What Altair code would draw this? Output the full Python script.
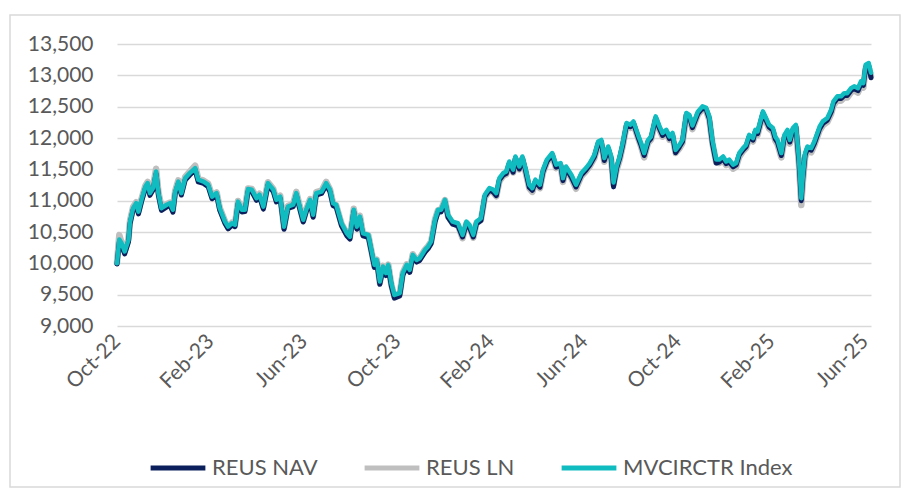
import altair as alt
import pandas as pd

dates = [
    "2022-10-26", "2022-10-29", "2022-11-01", "2022-11-05", "2022-11-10", "2022-11-12", "2022-11-16", "2022-11-20", "2022-11-23", "2022-11-27",
    "2022-12-02", "2022-12-05", "2022-12-08", "2022-12-12", "2022-12-16", "2022-12-19", "2022-12-23", "2022-12-30", "2023-01-03", "2023-01-07",
    "2023-01-10", "2023-01-14", "2023-01-18", "2023-01-23", "2023-01-29", "2023-02-05", "2023-02-09", "2023-02-16", "2023-02-22", "2023-02-27",
    "2023-03-05", "2023-03-09", "2023-03-16", "2023-03-20", "2023-03-25", "2023-03-29", "2023-04-02", "2023-04-07", "2023-04-11", "2023-04-15",
    "2023-04-20", "2023-04-26", "2023-04-30", "2023-05-05", "2023-05-11", "2023-05-18", "2023-05-22", "2023-05-27", "2023-06-01", "2023-06-06",
    "2023-06-13", "2023-06-17", "2023-06-22", "2023-06-26", "2023-06-30", "2023-07-05", "2023-07-09", "2023-07-13", "2023-07-20", "2023-07-26",
    "2023-07-31", "2023-08-04", "2023-08-08", "2023-08-15", "2023-08-22", "2023-08-26", "2023-08-31", "2023-09-04", "2023-09-08", "2023-09-12",
    "2023-09-19", "2023-09-23", "2023-09-27", "2023-09-30", "2023-10-04", "2023-10-08", "2023-10-12", "2023-10-15", "2023-10-19", "2023-10-23",
    "2023-10-30", "2023-11-03", "2023-11-08", "2023-11-12", "2023-11-16", "2023-11-21", "2023-11-25", "2023-12-02", "2023-12-06", "2023-12-10",
    "2023-12-15", "2023-12-19", "2023-12-23", "2023-12-28", "2024-01-01", "2024-01-07", "2024-01-14", "2024-01-20", "2024-01-25", "2024-01-29",
    "2024-02-03", "2024-02-07", "2024-02-13", "2024-02-18", "2024-02-24", "2024-02-29", "2024-03-04", "2024-03-08", "2024-03-13", "2024-03-17",
    "2024-03-21", "2024-03-26", "2024-03-29", "2024-04-03", "2024-04-07", "2024-04-11", "2024-04-16", "2024-04-20", "2024-04-24", "2024-04-30",
    "2024-05-04", "2024-05-09", "2024-05-16", "2024-05-21", "2024-05-27", "2024-05-30", "2024-06-03", "2024-06-10", "2024-06-16", "2024-06-23",
    "2024-06-29", "2024-07-04", "2024-07-10", "2024-07-15", "2024-07-19", "2024-07-23", "2024-07-28", "2024-08-01", "2024-08-04", "2024-08-08",
    "2024-08-12", "2024-08-16", "2024-08-21", "2024-08-26", "2024-08-30", "2024-09-05", "2024-09-09", "2024-09-13", "2024-09-18", "2024-09-22",
    "2024-09-28", "2024-10-03", "2024-10-07", "2024-10-12", "2024-10-16", "2024-10-20", "2024-10-24", "2024-10-29", "2024-11-02", "2024-11-07",
    "2024-11-11", "2024-11-15", "2024-11-22", "2024-11-28", "2024-12-03", "2024-12-07", "2024-12-11", "2024-12-16", "2024-12-20", "2024-12-25",
    "2024-12-29", "2025-01-02", "2025-01-07", "2025-01-11", "2025-01-15", "2025-01-20", "2025-01-24", "2025-01-28", "2025-02-02", "2025-02-05",
    "2025-02-08", "2025-02-15", "2025-02-19", "2025-02-23", "2025-02-28", "2025-03-03", "2025-03-06", "2025-03-11", "2025-03-15", "2025-03-19",
    "2025-03-22", "2025-03-26", "2025-03-30", "2025-04-03", "2025-04-06", "2025-04-08", "2025-04-11", "2025-04-14", "2025-04-19", "2025-04-23",
    "2025-04-30", "2025-05-04", "2025-05-10", "2025-05-15", "2025-05-18", "2025-05-23", "2025-05-28", "2025-06-01", "2025-06-05", "2025-06-10",
    "2025-06-14", "2025-06-19", "2025-06-23", "2025-06-26", "2025-06-29", "2025-07-03", "2025-07-06",
]

mvcirctr = [
    10000, 10380, 10320, 10190, 10375, 10665, 10880, 10960, 10825, 11015,
    11225, 11280, 11120, 11200, 11465, 11120, 10880, 10935, 10960, 10855,
    11145, 11305, 11120, 11360, 11440, 11520, 11335, 11305, 11255, 11065,
    11120, 10880, 10665, 10585, 10640, 10615, 10985, 10855, 10855, 11185,
    11175, 11040, 11095, 10905, 11280, 11175, 11015, 11065, 10585, 10905,
    10935, 11120, 10880, 10695, 10855, 11015, 10775, 11120, 11145, 11280,
    11175, 10960, 10935, 10640, 10480, 10425, 10855, 10585, 10745, 10480,
    10455, 10215, 9975, 10055, 9710, 9950, 9845, 9975, 9685, 9495,
    9525, 9845, 9975, 9895, 10135, 10055, 10080, 10215, 10270, 10350,
    10695, 10855, 10855, 11015, 10775, 10665, 10640, 10455, 10665, 10615,
    10455, 10665, 10720, 11095, 11200, 11175, 11120, 11360, 11440, 11465,
    11625, 11495, 11705, 11545, 11705, 11520, 11255, 11200, 11335, 11255,
    11495, 11655, 11760, 11575, 11600, 11360, 11545, 11415, 11255, 11440,
    11520, 11600, 11730, 11945, 11970, 11680, 11865, 11705, 11290, 11545,
    11705, 11920, 12240, 12210, 12265, 12050, 11920, 11760, 11970, 12025,
    12345, 12185, 12080, 12130, 12025, 12080, 11810, 11890, 11970, 12400,
    12370, 12200, 12420, 12505, 12480, 12345, 11970, 11655, 11655, 11705,
    11625, 11655, 11575, 11600, 11760, 11840, 11890, 12050, 12000, 12130,
    12105, 12425, 12320, 12210, 12160, 12025, 11970, 11760, 12050, 12130,
    11970, 12160, 12210, 11655, 11040, 11385, 11760, 11865, 11840, 11945,
    12185, 12265, 12320, 12450, 12585, 12665, 12665, 12715, 12715, 12795,
    12825, 12795, 12905, 12875, 13170, 13195, 13040,
]

reus_nav = [
    9990, 10340, 10290, 10150, 10345, 10630, 10850, 10930, 10790, 10985,
    11195, 11250, 11085, 11170, 11430, 11090, 10845, 10900, 10930, 10815,
    11115, 11275, 11090, 11330, 11410, 11490, 11300, 11275, 11225, 11030,
    11090, 10850, 10635, 10550, 10610, 10585, 10955, 10820, 10825, 11150,
    11145, 11005, 11065, 10865, 11250, 11145, 10980, 11035, 10545, 10875,
    10905, 11090, 10845, 10660, 10825, 10985, 10735, 11090, 11115, 11250,
    11140, 10920, 10900, 10600, 10440, 10385, 10825, 10545, 10710, 10440,
    10415, 10175, 9935, 10020, 9665, 9915, 9805, 9940, 9640, 9445,
    9480, 9810, 9940, 9855, 10100, 10020, 10045, 10180, 10235, 10315,
    10660, 10820, 10820, 10980, 10735, 10625, 10600, 10420, 10630, 10575,
    10420, 10630, 10685, 11065, 11170, 11140, 11080, 11330, 11410, 11435,
    11595, 11455, 11680, 11505, 11680, 11490, 11215, 11165, 11305, 11215,
    11465, 11625, 11735, 11535, 11570, 11320, 11515, 11375, 11220, 11410,
    11490, 11570, 11700, 11915, 11940, 11640, 11835, 11670, 11220, 11515,
    11675, 11890, 12210, 12180, 12240, 12015, 11880, 11720, 11940, 11995,
    12315, 12150, 12040, 12100, 11990, 12045, 11765, 11860, 11940, 12370,
    12340, 12165, 12390, 12475, 12450, 12310, 11920, 11600, 11615, 11670,
    11590, 11620, 11540, 11570, 11730, 11810, 11860, 12020, 11965, 12100,
    12070, 12395, 12285, 12175, 12125, 11985, 11930, 11720, 12020, 12100,
    11935, 12130, 12180, 11620, 11000, 11350, 11725, 11830, 11805, 11910,
    12150, 12230, 12285, 12415, 12550, 12630, 12630, 12680, 12680, 12760,
    12790, 12755, 12870, 12840, 13130, 13150, 12960,
]

reus_ln = [
    10010, 10450, 10330, 10190, 10390, 10680, 10900, 10975, 10830, 11030,
    11240, 11300, 11130, 11215, 11510, 11140, 10895, 10945, 10970, 10860,
    11160, 11325, 11140, 11380, 11465, 11560, 11350, 11320, 11270, 11080,
    11130, 10890, 10670, 10570, 10650, 10620, 10995, 10860, 10870, 11195,
    11185, 11050, 11110, 10900, 11295, 11185, 11020, 11080, 10570, 10915,
    10950, 11140, 10885, 10680, 10860, 11025, 10760, 11135, 11160, 11300,
    11180, 10955, 10930, 10630, 10475, 10420, 10870, 10575, 10760, 10470,
    10450, 10200, 9950, 10060, 9690, 9960, 9830, 9980, 9660, 9470,
    9510, 9850, 9985, 9880, 10145, 10050, 10085, 10220, 10275, 10345,
    10700, 10850, 10860, 11010, 10750, 10640, 10610, 10400, 10640, 10580,
    10410, 10640, 10695, 11050, 11160, 11130, 11070, 11310, 11395, 11420,
    11580, 11450, 11665, 11500, 11665, 11470, 11200, 11140, 11290, 11200,
    11450, 11610, 11720, 11520, 11550, 11300, 11500, 11360, 11190, 11390,
    11470, 11550, 11680, 11900, 11925, 11620, 11815, 11650, 11260, 11490,
    11650, 11870, 12195, 12160, 12220, 12000, 11860, 11690, 11920, 11975,
    12300, 12130, 12020, 12080, 11970, 12030, 11760, 11835, 11920, 12350,
    12320, 12140, 12370, 12460, 12430, 12290, 11920, 11610, 11600, 11650,
    11570, 11600, 11510, 11540, 11700, 11790, 11840, 12000, 11945, 12080,
    12050, 12375, 12265, 12150, 12100, 11960, 11900, 11690, 11990, 12075,
    11910, 12100, 12150, 11580, 10930, 11290, 11690, 11800, 11770, 11880,
    12120, 12200, 12255, 12385, 12520, 12600, 12595, 12650, 12645, 12730,
    12760, 12725, 12840, 12805, 13110, 13130, 12990,
]

series_names = ["REUS NAV", "REUS LN", "MVCIRCTR Index"]
series_colors = ["#0b1f5c", "#bfbfbf", "#10bcbf"]
y_ticks = [9000, 9500, 10000, 10500, 11000, 11500, 12000, 12500, 13000, 13500]
x_tick_dates = [
    (2022, 10, 26), (2023, 2, 25), (2023, 6, 27), (2023, 10, 27), (2024, 2, 26),
    (2024, 6, 27), (2024, 10, 27), (2025, 2, 26), (2025, 6, 28),
]
x_domain = [(2022, 10, 26), (2025, 7, 6)]

FONT = "Lato"
TEXT = "#595959"
GRID = "#d9d9d9"

df = pd.DataFrame({
    "date": pd.to_datetime(dates * 3),
    "value": reus_nav + reus_ln + mvcirctr,
    "series": [s for s in series_names for _ in dates],
})

def dt(t):
    return alt.DateTime(year=t[0], month=t[1], date=t[2])

x_enc = alt.X(
    "date:T",
    scale=alt.Scale(domain=[dt(d) for d in x_domain]),
    axis=alt.Axis(
        values=[dt(d) for d in x_tick_dates], format="%b-%y", labelAngle=-45,
        labelAlign="right", labelBaseline="middle",
        grid=False, ticks=False, domain=False, title=None,
        labelFont=FONT, labelFontSize=21, labelColor=TEXT, labelPadding=12,
    ),
)
y_enc = alt.Y(
    "value:Q",
    scale=alt.Scale(domain=[9000, 13500], nice=False, zero=False),
    axis=alt.Axis(
        values=y_ticks, format=",.0f", grid=True, gridColor=GRID, gridWidth=1.5,
        ticks=False, domain=False, title=None,
        labelFont=FONT, labelFontSize=21, labelColor=TEXT, labelPadding=24,
    ),
)
color_enc = alt.Color(
    "series:N",
    scale=alt.Scale(domain=series_names, range=series_colors),
    legend=alt.Legend(
        orient="none", legendX=31, legendY=394, direction="horizontal", title=None,
        symbolType="stroke", symbolStrokeWidth=5, symbolSize=3000,
        labelFont=FONT, labelFontSize=22, labelColor=TEXT, labelOffset=4,
        labelLimit=400, columnPadding=36,
    ),
)

base = alt.Chart(df)
draw_order = ["REUS LN", "REUS NAV", "MVCIRCTR Index"]
draw_widths = [6.5, 5, 4.5]
layers = []
for name, w in zip(draw_order, draw_widths):
    layers.append(
        base.transform_filter(alt.datum.series == name)
        .mark_line(strokeWidth=w, strokeJoin="round", strokeCap="round")
        .encode(x=x_enc, y=y_enc, color=color_enc)
    )

frame = alt.Chart(pd.DataFrame({"k": [0]})).mark_rect(
    fillOpacity=0, stroke=GRID, strokeWidth=1.5
).encode(x=alt.value(-107), x2=alt.value(783), y=alt.value(-29), y2=alt.value(443))

chart = alt.layer(frame, *layers).properties(
    width=754, height=282,
    autosize=alt.AutoSizeParams(type="none"),
    padding={"left": 109, "top": 36, "right": 30, "bottom": 162},
    background="white",
).configure_view(strokeWidth=0)

chart.save("out.html", embed_options={"renderer": "svg", "actions": False})
